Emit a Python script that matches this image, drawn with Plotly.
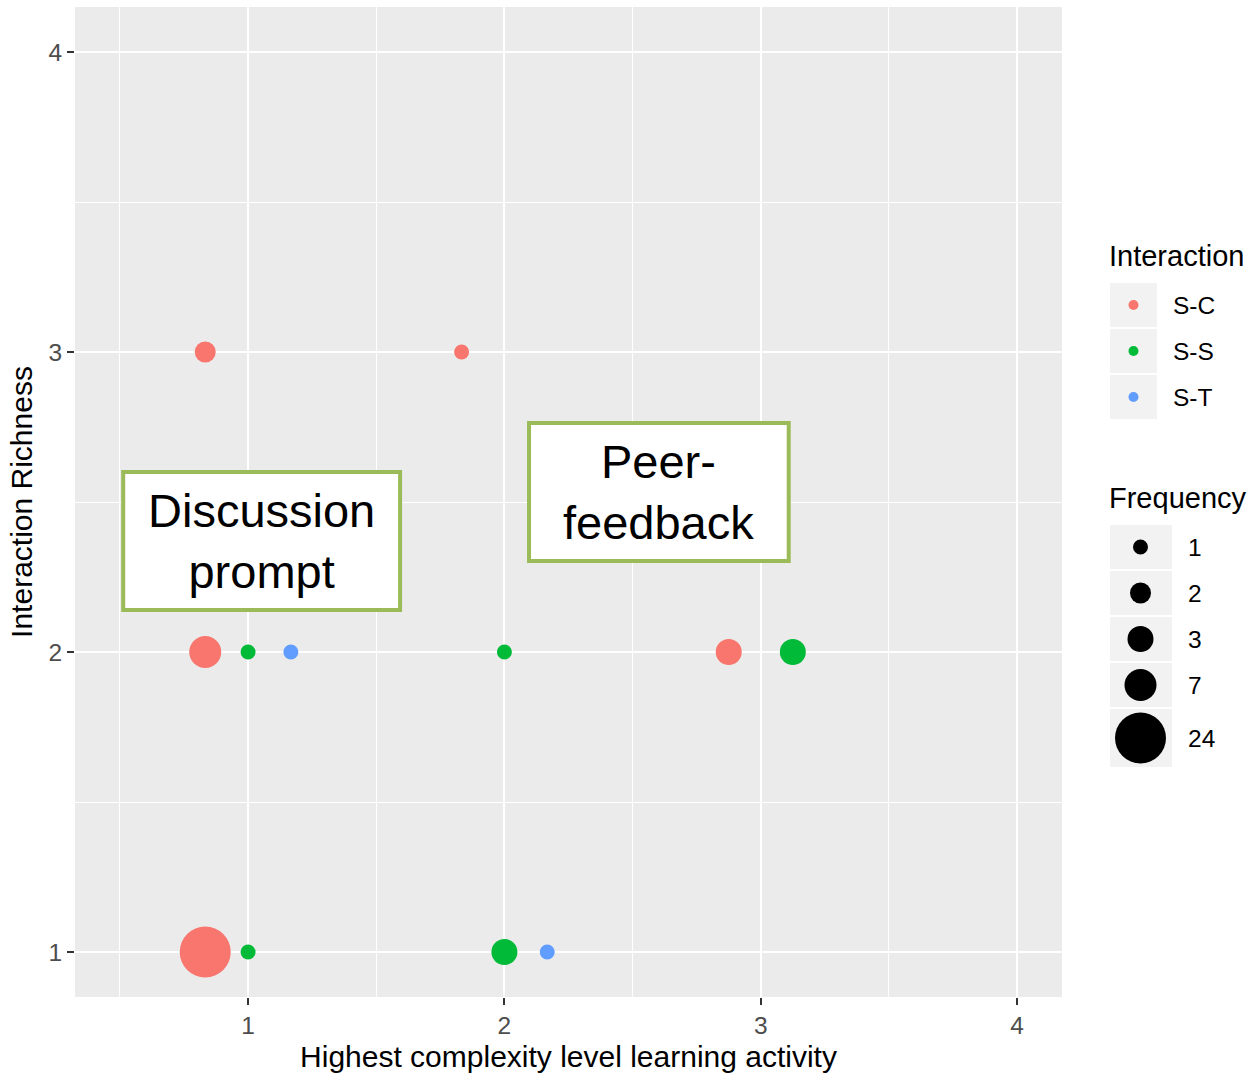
import plotly.graph_objects as go

# ---------------- data ----------------
interactions = ["S-C", "S-S", "S-T"]
colors = {"S-C": "#F8766D", "S-S": "#00BA38", "S-T": "#619CFF"}

# plotted (dodged) x positions, richness (y) and frequency per interaction
sc_x = [0.833, 1.833, 0.833, 2.875, 0.833]
sc_y = [3, 3, 2, 2, 1]
sc_f = [2, 1, 7, 3, 24]

ss_x = [1.0, 2.0, 3.125, 1.0, 2.0]
ss_y = [2, 2, 2, 1, 1]
ss_f = [1, 1, 3, 1, 3]

st_x = [1.167, 2.167]
st_y = [2, 1]
st_f = [1, 1]

freq_levels = [1, 2, 3, 7, 24]
x_ticks = [1, 2, 3, 4]
y_ticks = [1, 2, 3, 4]

x_title = "Highest complexity level learning activity"
y_title = "Interaction Richness"

# marker diameter (px) for each frequency level (ggplot size scale look)
size_px = {1: 15, 2: 21, 3: 26, 7: 32, 24: 51}

FONT = "Liberation Sans, Arial, sans-serif"

series = {
    "S-C": (sc_x, sc_y, sc_f),
    "S-S": (ss_x, ss_y, ss_f),
    "S-T": (st_x, st_y, st_f),
}

fig = go.Figure()
for name in interactions:
    xs, ys, fs = series[name]
    fig.add_trace(go.Scatter(
        x=xs, y=ys, mode="markers", name=name, showlegend=False,
        marker=dict(color=colors[name], size=[size_px[f] for f in fs],
                    line=dict(width=0), opacity=1),
        hoverinfo="x+y+name",
    ))

W, H = 1254, 1075
L, R, T, B = 75, 192, 7, 78
PW, PH = W - L - R, H - T - B


def px(xp):
    return (xp - L) / PW


def py(yp):
    return (H - B - yp) / PH


shapes = []
annotations = []

# ---------------- text boxes (in data coordinates) ----------------
boxes = [
    (0.513, 1.593, 2.14, 2.60, "Discussion<br>prompt"),
    (2.096, 3.109, 2.303, 2.763, "Peer-<br>feedback"),
]
for x0, x1, y0, y1, txt in boxes:
    shapes.append(dict(type="rect", xref="x", yref="y", x0=x0, x1=x1, y0=y0, y1=y1,
                       fillcolor="white", line=dict(color="#9BBB59", width=4), layer="above"))
    annotations.append(dict(x=(x0 + x1) / 2, y=(y0 + y1) / 2, xref="x", yref="y",
                            text=txt, showarrow=False, align="center",
                            font=dict(family=FONT, size=47, color="black")))

# ---------------- custom ggplot-like legends ----------------
KEY_GREY = "#F2F2F2"
title_font = dict(family=FONT, size=29, color="black")
label_font = dict(family=FONT, size=24.5, color="black")

# Interaction legend
annotations.append(dict(x=px(1107), y=py(256), xref="paper", yref="paper", text="Interaction",
                        showarrow=False, xanchor="left", yanchor="middle", font=title_font))
top = 283
for name in interactions:
    h = 44
    shapes.append(dict(type="rect", xref="paper", yref="paper", x0=px(1110), x1=px(1157),
                       y0=py(top + h), y1=py(top), fillcolor=KEY_GREY, line=dict(width=0)))
    cy = top + h / 2
    r = 5
    shapes.append(dict(type="circle", xref="paper", yref="paper", xsizemode="pixel", ysizemode="pixel",
                       xanchor=px(1133.5), yanchor=py(cy), x0=-r, x1=r, y0=-r, y1=r,
                       fillcolor=colors[name], line=dict(width=0)))
    annotations.append(dict(x=px(1171), y=py(cy), xref="paper", yref="paper", text=name,
                            showarrow=False, xanchor="left", yanchor="middle", font=label_font))
    top += h + 2

# Frequency legend
annotations.append(dict(x=px(1107), y=py(498), xref="paper", yref="paper", text="Frequency",
                        showarrow=False, xanchor="left", yanchor="middle", font=title_font))
top = 525
for f in freq_levels:
    d = size_px[f]
    h = max(44, d + 7)
    shapes.append(dict(type="rect", xref="paper", yref="paper", x0=px(1110), x1=px(1172),
                       y0=py(top + h), y1=py(top), fillcolor=KEY_GREY, line=dict(width=0)))
    cy = top + h / 2
    r = d / 2
    shapes.append(dict(type="circle", xref="paper", yref="paper", xsizemode="pixel", ysizemode="pixel",
                       xanchor=px(1140.5), yanchor=py(cy), x0=-r, x1=r, y0=-r, y1=r,
                       fillcolor="black", line=dict(width=0)))
    annotations.append(dict(x=px(1186), y=py(cy), xref="paper", yref="paper", text=str(f),
                            showarrow=False, xanchor="left", yanchor="middle", font=label_font))
    top += h + 2

axis_common = dict(
    showgrid=True, gridcolor="white", gridwidth=2, zeroline=False, showline=False,
    ticks="outside", ticklen=7, tickwidth=1.5, tickcolor="#333333",
    tickfont=dict(family=FONT, size=24.5, color="#4D4D4D"),
)

fig.update_layout(
    width=W, height=H,
    margin=dict(l=L, r=R, t=T, b=B, pad=0),
    plot_bgcolor="#EBEBEB", paper_bgcolor="white",
    showlegend=False,
    xaxis=dict(range=[0.325, 4.175], tickvals=x_ticks, ticktext=[str(v) for v in x_ticks],
               minor=dict(tickvals=[0.5, 1.5, 2.5, 3.5], showgrid=True, gridcolor="white",
                          gridwidth=1, ticks=""),
               title=dict(text=x_title, font=dict(family=FONT, size=30, color="black"), standoff=7),
               **axis_common),
    yaxis=dict(range=[0.85, 4.15], tickvals=y_ticks, ticktext=[str(v) for v in y_ticks],
               minor=dict(tickvals=[1.5, 2.5, 3.5], showgrid=True, gridcolor="white",
                          gridwidth=1, ticks=""),
               title=dict(text=y_title, font=dict(family=FONT, size=30, color="black"), standoff=6),
               **axis_common),
    shapes=shapes,
    annotations=annotations,
)

fig.write_html("out.html", config={"displayModeBar": False},
               post_script="document.body.style.margin='0px';document.body.style.overflow='hidden';")
